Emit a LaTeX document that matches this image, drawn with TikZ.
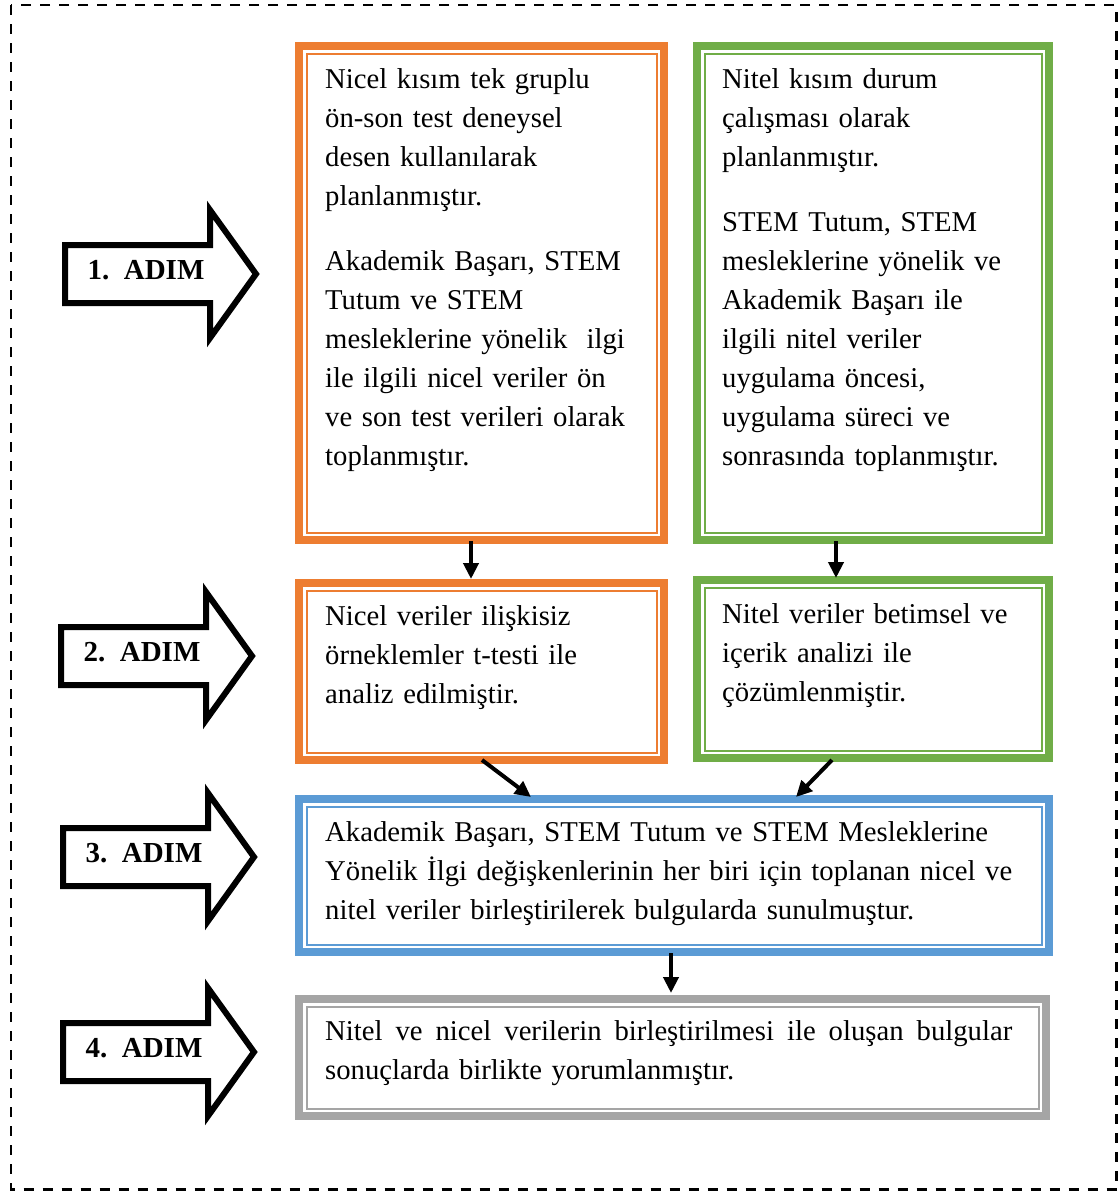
\documentclass[tikz,border=0pt]{standalone}
\usepackage{fontspec}
\setmainfont{Liberation Serif}
\usetikzlibrary{arrows.meta,calc}
\definecolor{cOrange}{HTML}{ED7D31}
\definecolor{cGreen}{HTML}{70AD47}
\definecolor{cBlue}{HTML}{5B9BD5}
\definecolor{cGray}{HTML}{A5A5A5}
\newcommand\adimarrow[4]{%
  \draw[blk] (#2,#3-29) -- (#2+145,#3-29) -- (#2+145,#3-64) -- (#2+191,#3) -- (#2+145,#3+64) -- (#2+145,#3+29) -- (#2,#3+29) -- cycle;
  \node[adim] (#1) at (#2+81,#3-4) {#4};}
\begin{document}
\begin{tikzpicture}[x=1pt,y=-1pt,
  frame/.style={draw=#1, line width=8pt, inner sep=0pt, anchor=north west, fill=white,
    path picture={\draw[#1, line width=2pt] ([xshift=7.5pt,yshift=-7.5pt]path picture bounding box.north west) rectangle ([xshift=-7.5pt,yshift=7.5pt]path picture bounding box.south east);}},
  txt/.style={inner sep=0pt, anchor=north west, align=left, font=\fontsize{28.7}{39}\selectfont},
  blk/.style={draw=black, fill=white, line width=6pt, line join=miter},
  adim/.style={inner sep=0pt, font=\fontsize{29}{39}\selectfont\bfseries},
  conn/.style={draw=black, line width=4pt, -{Triangle[length=16pt,width=15pt]}}]
\useasboundingbox (0,0) rectangle (1119,1192);
\draw[line width=2.8pt, dash pattern=on 10pt off 9pt] (11,5) rectangle (1116.5,1189.5);

% boxes (outer edge + 4)
\node[frame=cOrange, minimum width=365pt, minimum height=494pt] (b1o) at (295,42) {};
\node[frame=cGreen, minimum width=352pt, minimum height=494pt] (b1g) at (693,42) {};
\node[frame=cOrange, minimum width=365pt, minimum height=177pt] (b2o) at (295,579) {};
\node[frame=cGreen, minimum width=352pt, minimum height=178pt] (b2g) at (693,576) {};
\node[frame=cBlue, minimum width=750pt, minimum height=153pt] (b3) at (295,795) {};
\node[frame=cGray, minimum width=747pt, minimum height=117pt] (b4) at (295,995) {};

% texts
\node[txt, text width=330pt] (t1o) at (325,60.7) {\strut Nicel kısım tek gruplu\\ön-son test deneysel\\desen kullanılarak\\planlanmıştır.\\[26pt]Akademik Başarı, STEM\\Tutum ve STEM\\mesleklerine yönelik\ \ ilgi\\ile ilgili nicel veriler ön\\ve son test verileri olarak\\toplanmıştır.};
\node[txt, text width=310pt] (t1g) at (722,60.7) {\strut Nitel kısım durum\\çalışması olarak\\planlanmıştır.\\[26pt]STEM Tutum, STEM\\mesleklerine yönelik ve\\Akademik Başarı ile\\ilgili nitel veriler\\uygulama öncesi,\\uygulama süreci ve\\sonrasında toplanmıştır.};
\node[txt, text width=330pt] (t2o) at (325,597.7) {\strut Nicel veriler ilişkisiz\\örneklemler t-testi ile\\analiz edilmiştir.};
\node[txt, text width=310pt] (t2g) at (722,595.7) {\strut Nitel veriler betimsel ve\\içerik analizi ile\\çözümlenmiştir.};
\node[txt, text width=710pt] (t3) at (325,813.7) {\strut Akademik Başarı, STEM Tutum ve STEM Mesleklerine\\Yönelik İlgi değişkenlerinin her biri için toplanan nicel ve\\nitel veriler birleştirilerek bulgularda sunulmuştur.};
\node[txt, text width=700pt] (t4) at (325,1012.7) {\strut\makebox[687pt][s]{Nitel\hfill ve\hfill nicel\hfill verilerin\hfill birleştirilmesi\hfill ile\hfill oluşan\hfill bulgular}\\sonuçlarda birlikte yorumlanmıştır.};

% step arrows
\adimarrow{s1}{65}{274}{1.\ \ ADIM}
\adimarrow{s2}{61}{656}{2.\ \ ADIM}
\adimarrow{s3}{63}{857}{3.\ \ ADIM}
\adimarrow{s4}{63}{1052}{4.\ \ ADIM}

% connectors
\coordinate (xa) at (471,0);
\coordinate (xb) at (836,0);
\coordinate (xc) at (482,0);
\coordinate (xd) at (531,0);
\coordinate (xe) at (832,0);
\coordinate (xf) at (796,0);
\coordinate (xg) at (671,0);
\draw[conn] ([yshift=3pt]b1o.south -| xa) -- ([yshift=0pt]b2o.north -| xa);
\draw[conn] ([yshift=3pt]b1g.south -| xb) -- ([yshift=-2pt]b2g.north -| xb);
\draw[conn] ([yshift=4pt]b2o.south -| xc) -- ([yshift=-2pt]b3.north -| xd);
\draw[conn] ([yshift=2pt]b2g.south -| xe) -- ([yshift=-2pt]b3.north -| xf);
\draw[conn] ([yshift=3pt]b3.south -| xg) -- ([yshift=2pt]b4.north -| xg);
\end{tikzpicture}
\end{document}
